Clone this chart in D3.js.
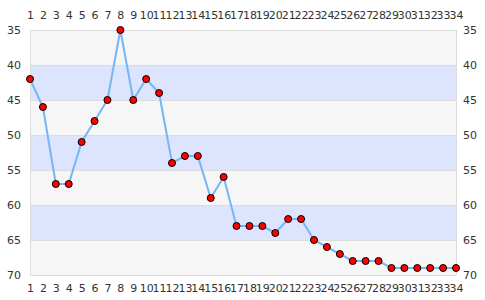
<!DOCTYPE html>
<html>
<head>
<meta charset="utf-8">
<script src="https://cdn.jsdelivr.net/npm/d3@7"></script>
<style>
  body { margin: 0; background: #fff; }
  text { font-family: "DejaVu Sans", sans-serif; }
</style>
</head>
<body>
<script>
const categories = d3.range(1, 35)
const values = [42, 46, 57, 57, 51, 48, 45, 35, 45, 42, 44, 54, 53, 53, 59, 56, 63, 63,
  63, 64, 62, 62, 65, 66, 67, 68, 68, 68, 69, 69, 69, 69, 69, 69]
const yTicks = [35, 40, 45, 50, 55, 60, 65, 70]

const width = 485
const height = 300
const margin = { top: 30, right: 29, bottom: 25, left: 30 }

const svg = d3.select('body').append('svg')
  .attr('width', width)
  .attr('height', height)

const x = d3.scalePoint()
  .domain(categories)
  .range([margin.left, width - margin.right])

const y = d3.scaleLinear()
  .domain([35, 70])
  .range([margin.top, height - margin.bottom])

// alternating bands
const bands = d3.pairs(yTicks)
svg.append('g')
  .selectAll('rect')
  .data(bands)
  .enter().append('rect')
  .attr('x', margin.left)
  .attr('width', width - margin.right - margin.left)
  .attr('y', d => y(d[0]))
  .attr('height', d => y(d[1]) - y(d[0]))
  .attr('fill', (d, i) => i % 2 ? '#dde4fd' : '#f6f6f6')

// grid lines
svg.append('g')
  .selectAll('line')
  .data(yTicks)
  .enter().append('line')
  .attr('x1', margin.left)
  .attr('x2', width - margin.right)
  .attr('y1', d => Math.round(y(d)) + 0.5)
  .attr('y2', d => Math.round(y(d)) + 0.5)
  .attr('stroke', '#dcdcdc')

svg.append('line')
  .attr('x1', margin.left + 0.5).attr('x2', margin.left + 0.5)
  .attr('y1', margin.top).attr('y2', height - margin.bottom)
  .attr('stroke', '#dcdcdc')
svg.append('line')
  .attr('x1', width - margin.right + 0.5).attr('x2', width - margin.right + 0.5)
  .attr('y1', margin.top).attr('y2', height - margin.bottom)
  .attr('stroke', '#dcdcdc')

function styleAxis (g) {
  g.select('.domain').remove()
  g.selectAll('.tick line').remove()
  g.selectAll('text')
    .attr('fill', '#333')
    .style('font-size', '11px')
    .style('font-family', '"DejaVu Sans", sans-serif')
}

svg.append('g')
  .attr('transform', 'translate(0,' + (margin.top - 2) + ')')
  .call(d3.axisTop(x).tickSizeOuter(0))
  .call(styleAxis)

svg.append('g')
  .attr('transform', 'translate(0,' + (height - margin.bottom) + ')')
  .call(d3.axisBottom(x).tickSizeOuter(0))
  .call(styleAxis)

svg.append('g')
  .attr('transform', 'translate(' + (margin.left - 7) + ',0)')
  .call(d3.axisLeft(y).tickValues(yTicks))
  .call(styleAxis)
  .selectAll('text').attr('x', -2)

svg.append('g')
  .attr('transform', 'translate(' + (width - margin.right + 5) + ',0)')
  .call(d3.axisRight(y).tickValues(yTicks))
  .call(styleAxis)
  .selectAll('text').attr('x', 2)

const data = categories.map((c, i) => ({ c: c, v: values[i] }))

svg.append('path')
  .datum(data)
  .attr('fill', 'none')
  .attr('stroke', '#74b6f6')
  .attr('stroke-width', 2)
  .attr('d', d3.line().x(d => x(d.c)).y(d => y(d.v)))

svg.append('g')
  .selectAll('circle')
  .data(data)
  .enter().append('circle')
  .attr('cx', d => x(d.c))
  .attr('cy', d => y(d.v))
  .attr('r', 3.5)
  .attr('fill', '#ff0000')
  .attr('stroke', '#000')
  .attr('stroke-width', 1)
</script>
</body>
</html>
